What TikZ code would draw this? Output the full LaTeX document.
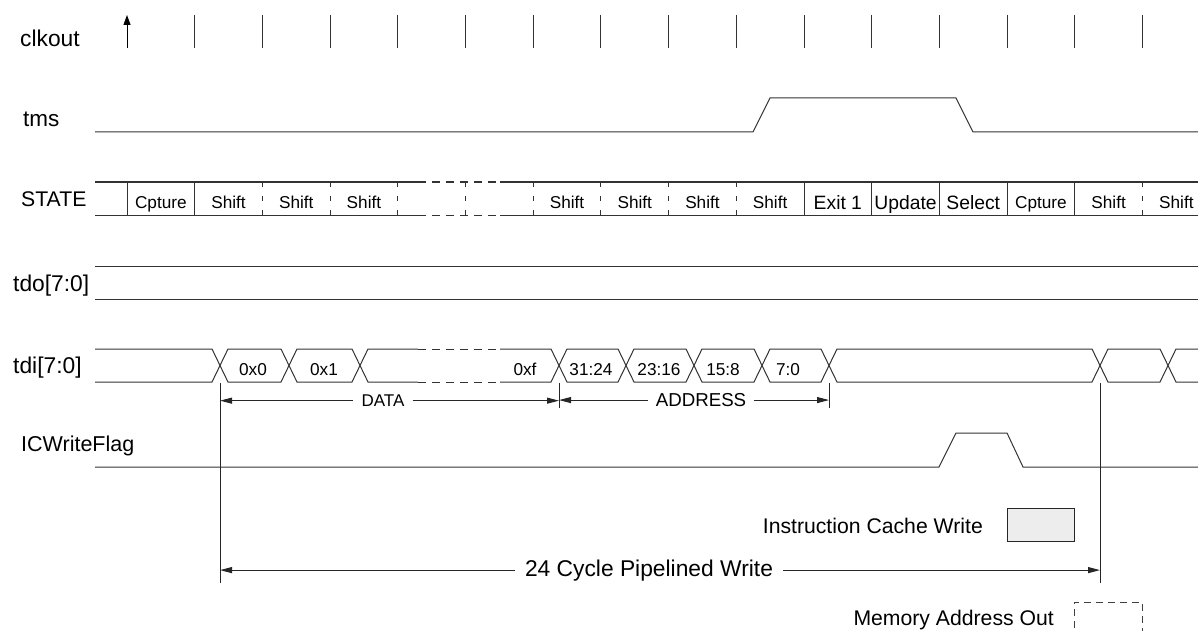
\documentclass[tikz,border=0pt]{standalone}
\usepackage{fontspec}
\setmainfont{Liberation Sans}
\usetikzlibrary{arrows.meta, positioning}
\tikzset{
    signame/.style={anchor=base west, inner sep=0pt, font=\fontsize{22.8}{26}\selectfont},
    celltext/.style={anchor=base, inner sep=0pt, font=\fontsize{17.2}{20}\selectfont},
    bigcell/.style={anchor=base, inner sep=0pt, font=\fontsize{19.3}{22}\selectfont},
    wave/.style={line width=1pt, black!80},
    sepdash/.style={line width=1pt, black!80, dash pattern=on 5pt off 9pt},
    busdash/.style={line width=1pt, black!80, dash pattern=on 8pt off 6pt},
    clkarrow/.style={line width=1pt, black, -{Triangle[length=10pt, width=7pt]}},
    dimline/.style={line width=1pt, black!85},
    dimarrow/.style={line width=1pt, black!85, -{Triangle[length=12pt, width=6pt]}},
    dimtext/.style={anchor=base, inner xsep=8pt, inner ysep=0pt, font=\fontsize{17}{20}\selectfont},
    legend/.style={anchor=base east, inner sep=0pt, font=\fontsize{21.2}{24}\selectfont},
    cachebox/.style={rectangle, draw=black!85, line width=1pt, fill=black!7,
                     minimum width=67.6pt, minimum height=33pt, inner sep=0pt},
    legenddash/.style={line width=1pt, black!75, dash pattern=on 7pt off 5pt},
}

\begin{document}
\begin{tikzpicture}[x=1pt, y=-1pt]
    \useasboundingbox (0,0) rectangle (1198,631);

    % ── CLOCK EDGES ──
    \foreach \i in {0,...,16} \coordinate (t\i) at ({127+67.7*\i},0);

    % ── SIGNAL NAMES ──
    \node[signame] (nclk)   at (20,47)  {clkout};
    \node[signame, font=\fontsize{22.5}{26}\selectfont] (ntms) at (23,127) {tms};
    \node[signame, font=\fontsize{21.2}{24}\selectfont] (nstate) at (21,206) {STATE};
    \node[signame] (ntdo)   at (13,291) {tdo[7:0]};
    \node[signame] (ntdi)   at (13,373) {tdi[7:0]};
    \node[signame, font=\fontsize{21.5}{24}\selectfont] (nicw) at (21,451) {ICWriteFlag};

    % ── CLKOUT ──
    \draw[clkarrow] (t0 |- 0,48) -- (t0 |- 0,15);
    \foreach \i in {1,...,15} \draw[wave] (t\i |- 0,15) -- (t\i |- 0,48);

    % ── TMS ──
    \draw[wave] (95,132) -- (753,132) -- (770,98) -- (956,98) -- (973,132) -- (1198,132);

    % ── STATE ──
    \foreach \y in {182,215} {
        \draw[wave] (95,\y) -- (418,\y);
        \draw[busdash] (418,\y) -- (500,\y);
        \draw[wave] (500,\y) -- (1198,\y);
    }
    \foreach \i in {0,1,10,11,12,13,14} \draw[wave] (t\i |- 0,182) -- (t\i |- 0,215);
    \foreach \i in {2,...,9,15} \draw[sepdash] (t\i |- 0,182) -- (t\i |- 0,215);
    \foreach \i/\txt in {0/Cpture, 1/Shift, 2/Shift, 3/Shift, 6/Shift, 7/Shift,
                         8/Shift, 9/Shift, 13/Cpture, 14/Shift, 15/Shift}
        \node[celltext] (s\i) at ({127+67.7*(\i+0.5)},208.5) {\txt};
    \foreach \i/\txt in {10/Exit 1, 11/Update, 12/Select}
        \node[bigcell] (s\i) at ({127+67.7*(\i+0.5)},209) {\txt};

    % ── TDO ──
    \draw[wave] (95,266) -- (1198,266);
    \draw[wave] (95,299) -- (1198,299);

    % ── TDI ──
    \draw[wave] (95,349) -- (212,349) -- (228,382) -- (281,382) -- (297,349)
        -- (352,349) -- (368,382) -- (418,382);
    \draw[wave] (95,382) -- (212,382) -- (228,349) -- (281,349) -- (297,382)
        -- (352,382) -- (368,349) -- (418,349);
    \draw[busdash] (418,349) -- (500,349);
    \draw[busdash] (418,382) -- (500,382);
    \draw[wave] (500,349) -- (551,349) -- (567,382) -- (618,382) -- (634,349)
        -- (686,349) -- (702,382) -- (754,382) -- (770,349) -- (821,349)
        -- (837,382) -- (1092,382) -- (1108,349) -- (1160,349) -- (1176,382) -- (1198,382);
    \draw[wave] (500,382) -- (551,382) -- (567,349) -- (618,349) -- (634,382)
        -- (686,382) -- (702,349) -- (754,349) -- (770,382) -- (821,382)
        -- (837,349) -- (1092,349) -- (1108,382) -- (1160,382) -- (1176,349) -- (1198,349);
    \node[celltext] (b0) at (253,375) {0x0};
    \node[celltext] (b1) at (324,375) {0x1};
    \node[celltext] (b2) at (525,375) {0xf};
    \node[celltext] (b3) at (591,375) {31:24};
    \node[celltext] (b4) at (659,375) {23:16};
    \node[celltext] (b5) at (723,375) {15:8};
    \node[celltext] (b6) at (788,375) {7:0};

    % ── DIMENSIONS ──
    \coordinate (mk0) at (220,383);
    \coordinate (mk1) at (559,383);
    \coordinate (mk2) at (829,383);
    \coordinate (mk3) at (1100,383);
    \draw[dimline] (mk0) -- (mk0 |- 0,583);
    \draw[dimline] (mk1) -- (mk1 |- 0,408);
    \draw[dimline] (mk2) -- (mk2 |- 0,408);
    \draw[dimline] (mk3) -- (mk3 |- 0,583);

    \node[dimtext] (data) at (383,406.5) {DATA};
    \draw[dimarrow] (data.west) -- (data.west -| mk0);
    \draw[dimarrow] (data.east) -- (data.east -| mk1);

    \node[dimtext, font=\fontsize{18.7}{22}\selectfont] (addr) at (701,406.5) {ADDRESS};
    \draw[dimarrow] (addr.west) -- (addr.west -| mk1);
    \draw[dimarrow] (addr.east) -- (addr.east -| mk2);

    \node[dimtext, inner xsep=10pt, font=\fontsize{22.8}{26}\selectfont] (cyc) at (649,576)
        {24 Cycle Pipelined Write};
    \draw[dimarrow] (cyc.west) -- (cyc.west -| mk0);
    \draw[dimarrow] (cyc.east) -- (cyc.east -| mk3);

    % ── ICWRITEFLAG ──
    \draw[wave] (95,467) -- (939,467) -- (956,433) -- (1007,433) -- (1023,467) -- (1198,467);

    % ── LEGEND ──
    \node[legend] (itxt) at (983,533) {Instruction Cache Write};
    \node[cachebox, right=23.7pt of itxt] (ibox) {};

    \node[legend] (mtxt) at (1054,625) {Memory Address Out};
    \coordinate (mbox) at (1074,602);
    \draw[legenddash] (mbox |- 0,640) -- (mbox) -- ++(68,0) -- ++(0,38);

\end{tikzpicture}
\end{document}
